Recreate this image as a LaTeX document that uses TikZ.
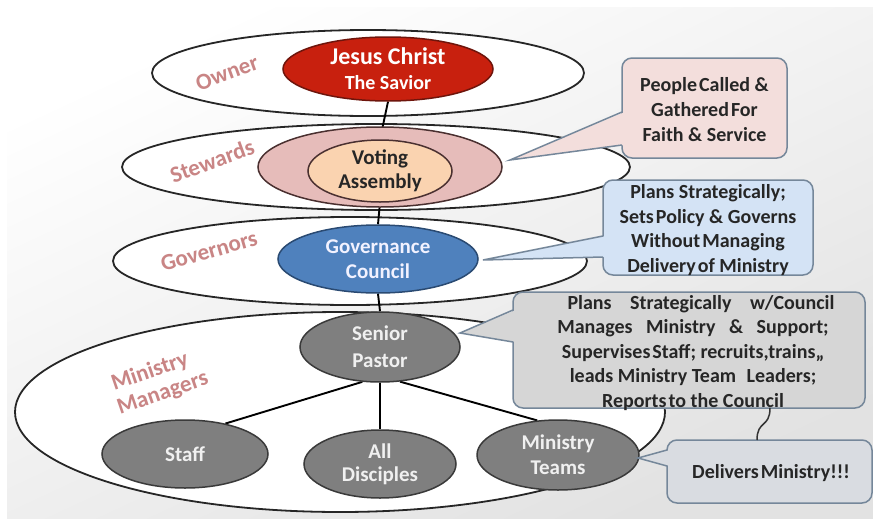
\documentclass[tikz,border=0pt]{standalone}
\usepackage{fontspec}
\setmainfont{Carlito}
\usetikzlibrary{shapes.geometric}
\pgfdeclarelayer{back}
\pgfdeclarelayer{bg}
\pgfsetlayers{back,bg,main}
\definecolor{jesusred}{HTML}{C8200E}
\definecolor{jesusborder}{HTML}{6E150C}
\definecolor{pinkfill}{HTML}{E6BCBA}
\definecolor{pinkborder}{HTML}{4A3030}
\definecolor{orangefill}{HTML}{FAD3B0}
\definecolor{govfill}{HTML}{4F81BD}
\definecolor{govborder}{HTML}{2A4A72}
\definecolor{grayfill}{HTML}{7F7F7F}
\definecolor{grayborder}{HTML}{3A3A3A}
\definecolor{labelc}{HTML}{C98585}
\definecolor{cborder}{HTML}{75879A}
\definecolor{cpink}{HTML}{F3DEDC}
\definecolor{cblue}{HTML}{D4E3F5}
\definecolor{cgray}{HTML}{D6D6D6}
\definecolor{cdel}{HTML}{D9DCE1}
\definecolor{bgbottom}{HTML}{E2E2E2}
\begin{document}
\begin{tikzpicture}[x=1pt,y=-1pt,
  layer/.style={ellipse, draw=black!85, line width=1.8pt, fill=white, inner sep=0pt},
  role/.style={ellipse, line width=1.5pt, inner sep=0pt, align=center,
    font=\bfseries\fontsize{21}{27}\selectfont},
  lbl/.style={text=labelc, font=\bfseries\fontsize{23}{25}\selectfont, inner sep=0pt},
  callbox/.style={draw=cborder, line width=1.5pt, rounded corners=10pt, inner sep=0pt,
    align=center, font=\bfseries\fontsize{20}{24.5}\selectfont, text=black!85},
  link/.style={draw=black, line width=1.9pt},
  tailline/.style={draw=cborder, line width=1.5pt}
]
\useasboundingbox (0,0) rectangle (873,525);
\begin{pgfonlayer}{back}
  \fill[white] (0,0) rectangle (873,525);
  \shade[top color=white, bottom color=bgbottom, shading angle=25] (7,7) rectangle (873,518);
\end{pgfonlayer}

% inner role nodes
\node[role, fill=jesusred, draw=jesusborder, text=white, minimum width=210pt, minimum height=64pt]
  (jesus) at (388,69) {\fontsize{24}{27}\selectfont Jesus Christ\\[-2pt]\fontsize{20}{24}\selectfont The Savior};
\node[ellipse, fill=pinkfill, draw=pinkborder, line width=1.5pt, minimum width=244pt, minimum height=80pt, inner sep=0pt]
  (pinkell) at (380,167) {};
\node[role, fill=orangefill, draw=pinkborder, text=black!85, minimum width=144pt, minimum height=62pt,
  font=\bfseries\fontsize{21}{24}\selectfont]
  (voting) at (380,171) {Voting\\Assembly};
\node[role, fill=govfill, draw=govborder, text=blue!5, minimum width=200pt, minimum height=68pt,
  font=\bfseries\fontsize{21}{25}\selectfont]
  (gov) at (378,259) {Governance\\Council};
\node[role, fill=grayfill, draw=grayborder, text=white!94!black, minimum width=160pt, minimum height=70pt]
  (senior) at (380,347) {Senior\\Pastor};
\node[role, fill=grayfill, draw=grayborder, text=white!94!black, minimum width=166pt, minimum height=68pt]
  (staff) at (185,454) {Staff};
\node[role, fill=grayfill, draw=grayborder, text=white!94!black, minimum width=152pt, minimum height=68pt,
  font=\bfseries\fontsize{21}{23}\selectfont]
  (all) at (380,464) {All\\Disciples};
\node[role, fill=grayfill, draw=grayborder, text=white!94!black, minimum width=162pt, minimum height=70pt,
  font=\bfseries\fontsize{21}{25}\selectfont]
  (teams) at (558,455) {Ministry\\Teams};

\begin{pgfonlayer}{bg}
  \node[layer, minimum width=650pt, minimum height=200pt] (managers) at (340,412) {};
  \node[layer, minimum width=474pt, minimum height=88pt] (governors) at (350,261) {};
  \node[layer, minimum width=508pt, minimum height=86pt] (stewards) at (376,167) {};
  \node[layer, minimum width=432pt, minimum height=86pt] (owner) at (368,73) {};
  \draw[link] (jesus.south) -- (voting.north);
  \draw[link] (voting.south) -- (gov.north);
  \draw[link] (gov.south) -- (senior.north);
  \draw[link] (senior.243) -- (staff.37);
  \draw[link] (senior.south) -- (all.north);
  \draw[link] (senior.300) -- (teams.121);
\end{pgfonlayer}

% layer labels
\node[lbl, rotate=20] (lowner) at (227,73) {Owner};
\node[lbl, rotate=20] (lstew) at (212,161) {Stewards};
\node[lbl, rotate=16] (lgov) at (209,251) {Governors};
\node[lbl, rotate=19] (lmin) at (150,372) {Ministry};
\node[lbl, rotate=19] (lman) at (163,394) {Managers};

% callouts
\node[callbox, fill=cpink, minimum width=165pt, minimum height=100pt]
  (pinkbox) at (704.5,108) {};
\coordinate (ptip) at (510,160);
\coordinate (pa) at (622,112);
\coordinate (pb) at (622,145);
\fill[cpink] (ptip) -- ([xshift=3pt]pa) -- ([xshift=3pt]pb) -- cycle;
\draw[tailline] (pa) -- (ptip) -- (pb);
\node[align=center, font=\bfseries\fontsize{20}{25}\selectfont, text=black!85] (pinktext) at (704.5,110)
  {People\kern2ptCalled \&\\Gathered\kern2ptFor\\Faith \& Service};

\node[callbox, fill=cblue, minimum width=210pt, minimum height=95pt] (bluebox) at (708,227.5) {};
\coordinate (btip) at (483,260);
\coordinate (ba) at (603,236);
\coordinate (bb) at (603,257);
\fill[cblue] (btip) -- ([xshift=3pt]ba) -- ([xshift=3pt]bb) -- cycle;
\draw[tailline] (ba) -- (btip) -- (bb);
\node[align=center, font=\bfseries\fontsize{20}{24.5}\selectfont, text=black!85] (bluetext) at (708,230)
  {Plans Strategically;\\Sets\kern2ptPolicy \& Governs\\Without\kern2ptManaging\\Delivery\kern2ptof Ministry};

\node[callbox, fill=cgray, minimum width=352pt, minimum height=116pt] (graybox) at (689,350) {};
\coordinate (gtip) at (460,333);
\coordinate (ga) at (513,310);
\coordinate (gb) at (513,342);
\fill[cgray] (gtip) -- ([xshift=3pt]ga) -- ([xshift=3pt]gb) -- cycle;
\draw[tailline] (ga) -- (gtip) -- (gb);
\node[align=center, font=\bfseries\fontsize{20}{24.5}\selectfont, text=black!85] (graytext) at (693,353)
  {\hspace*{16pt}Plans\hspace{14pt} Strategically\hspace{14pt} w/Council\\
   Manages\hspace{9pt} Ministry\hspace{9pt} \&\hspace{9pt} Support;\\
   Supervises\kern2ptStaff; recruits,trains,,\\
   leads Ministry Team\hspace{6pt} Leaders;\\
   Reports\kern2ptto the Council};

\node[callbox, fill=cdel, minimum width=205pt, minimum height=63pt] (delbox) at (769.5,471.5) {};
\coordinate (dtip) at (638,458);
\coordinate (da) at (667,450);
\coordinate (db) at (667,466);
\fill[cdel] (dtip) -- ([xshift=3pt]da) -- ([xshift=3pt]db) -- cycle;
\draw[tailline] (da) -- (dtip) -- (db);
\node[font=\bfseries\fontsize{20}{24}\selectfont, text=black!85] (deltext) at (771,473)
  {Delivers\kern2ptMinistry!!!};

\coordinate (sa) at (770,408);
\coordinate (sb) at (757,440);
\draw[draw=black!80, line width=1.5pt] (sa) .. controls (770,428) and (757,420) .. (sb);
\end{tikzpicture}
\end{document}
